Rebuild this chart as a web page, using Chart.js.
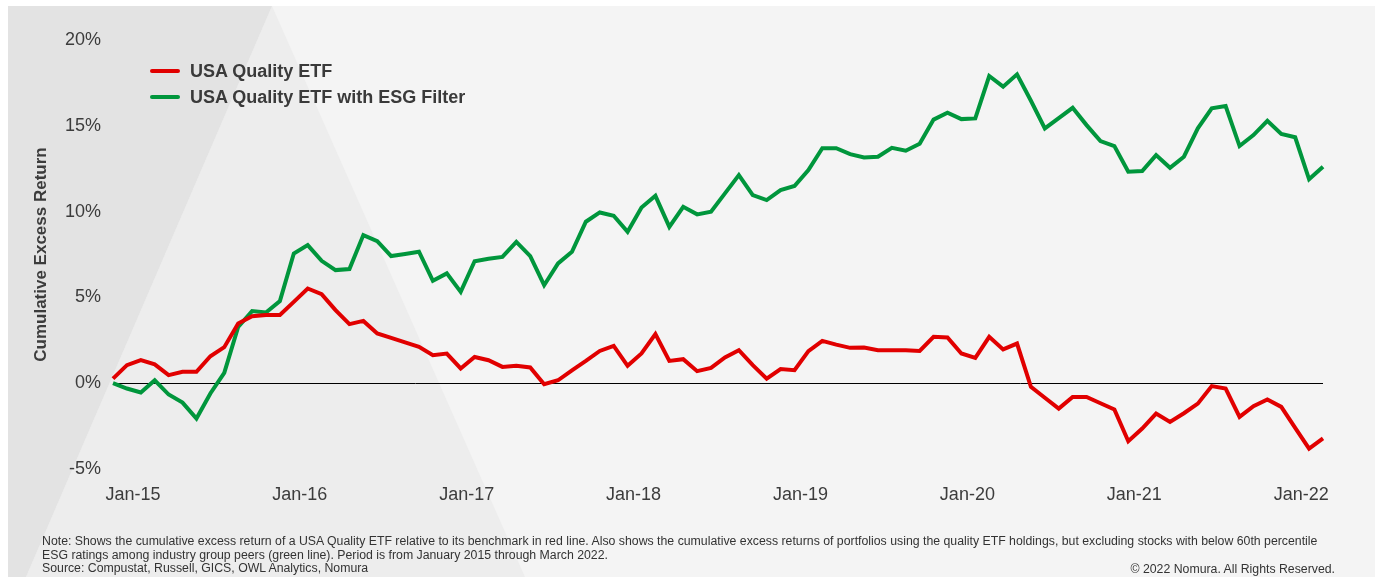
<!DOCTYPE html>
<html>
<head>
<meta charset="utf-8">
<script src="https://cdn.jsdelivr.net/npm/chart.js@4.4.1/dist/chart.umd.min.js"></script>
<style>
  body { margin: 0; background: #fff; font-family: "Liberation Sans", Arial, sans-serif; }
  #wrap { position: relative; width: 1375px; height: 577px; overflow: hidden; }
  #chart { position: absolute; left: 0; top: 0; }
  .legend { position: absolute; left: 150px; top: 60px; color: #3a3a3a; font-weight: bold; font-size: 18px; }
  .legend div { height: 26px; line-height: 22px; white-space: nowrap; }
  .legend span { display: inline-block; width: 30px; height: 4px; border-radius: 2px; vertical-align: middle; margin-right: 10px; position: relative; top: -1px; }
  .note { position: absolute; left: 42px; top: 535px; font-size: 12.3px; line-height: 13.5px; color: #333; white-space: nowrap; }
  .copy { position: absolute; right: 40px; top: 562px; font-size: 12.3px; color: #333; }
</style>
</head>
<body>
<div id="wrap">
  <canvas id="chart" width="1375" height="577"></canvas>
  <div class="legend">
    <div><span style="background:#e10000"></span>USA Quality ETF</div>
    <div><span style="background:#00963c"></span>USA Quality ETF with ESG Filter</div>
  </div>
  <div class="note">Note: Shows the cumulative excess return of a USA Quality ETF relative to its benchmark in red line. Also shows the cumulative excess returns of portfolios using the quality ETF holdings, but excluding stocks with below 60th percentile<br>ESG ratings among industry group peers (green line). Period is from January 2015 through March 2022.<br>Source: Compustat, Russell, GICS, OWL Analytics, Nomura</div>
  <div class="copy">© 2022 Nomura. All Rights Reserved.</div>
</div>
<script>
const months = [
  'Dec-14',
  'Jan-15','Feb-15','Mar-15','Apr-15','May-15','Jun-15','Jul-15','Aug-15','Sep-15','Oct-15','Nov-15','Dec-15',
  'Jan-16','Feb-16','Mar-16','Apr-16','May-16','Jun-16','Jul-16','Aug-16','Sep-16','Oct-16','Nov-16','Dec-16',
  'Jan-17','Feb-17','Mar-17','Apr-17','May-17','Jun-17','Jul-17','Aug-17','Sep-17','Oct-17','Nov-17','Dec-17',
  'Jan-18','Feb-18','Mar-18','Apr-18','May-18','Jun-18','Jul-18','Aug-18','Sep-18','Oct-18','Nov-18','Dec-18',
  'Jan-19','Feb-19','Mar-19','Apr-19','May-19','Jun-19','Jul-19','Aug-19','Sep-19','Oct-19','Nov-19','Dec-19',
  'Jan-20','Feb-20','Mar-20','Apr-20','May-20','Jun-20','Jul-20','Aug-20','Sep-20','Oct-20','Nov-20','Dec-20',
  'Jan-21','Feb-21','Mar-21','Apr-21','May-21','Jun-21','Jul-21','Aug-21','Sep-21','Oct-21','Nov-21','Dec-21',
  'Jan-22','Feb-22','Mar-22'
];

// cumulative excess return, %
const qualityEtf = [
  0.27, 1.05, 1.34, 1.1, 0.47, 0.66, 0.66, 1.57, 2.1, 3.48, 3.9, 3.97, 3.97,
  4.74, 5.52, 5.19, 4.26, 3.44, 3.63, 2.9, 2.64, 2.38, 2.12, 1.63, 1.73,
  0.86, 1.53, 1.34, 0.95, 1.01, 0.92, -0.06, 0.17, 0.75, 1.3, 1.88, 2.18,
  1.01, 1.73, 2.86, 1.3, 1.4, 0.7, 0.89, 1.5, 1.92, 1.05, 0.27, 0.82,
  0.76, 1.87, 2.47, 2.25, 2.06, 2.08, 1.92, 1.92, 1.92, 1.88, 2.7, 2.66,
  1.73, 1.48, 2.7, 1.97, 2.31, -0.21, -0.85, -1.48, -0.8, -0.8, -1.17, -1.53,
  -3.38, -2.64, -1.77, -2.26, -1.75, -1.19, -0.17, -0.31, -1.96, -1.34, -0.95, -1.38,
  -2.6, -3.81, -3.22
];

const qualityEsg = [
  0, -0.31, -0.54, 0.17, -0.66, -1.13, -2.06, -0.6, 0.6, 3.28, 4.2, 4.12, 4.78,
  7.56, 8.05, 7.13, 6.59, 6.65, 8.63, 8.28, 7.41, 7.53, 7.66, 5.97, 6.4,
  5.32, 7.11, 7.25, 7.36, 8.24, 7.41, 5.71, 6.98, 7.66, 9.41, 9.95, 9.76,
  8.82, 10.24, 10.92, 9.11, 10.28, 9.84, 9.99, 11.06, 12.13, 10.96, 10.67, 11.25,
  11.49, 12.42, 13.69, 13.69, 13.35, 13.16, 13.2, 13.72, 13.55, 13.95, 15.36, 15.76,
  15.39, 15.43, 17.9, 17.28, 18.0, 16.46, 14.85, 15.45, 16.05, 15.04, 14.11, 13.82,
  12.32, 12.36, 13.29, 12.55, 13.2, 14.85, 16.02, 16.15, 13.82, 14.46, 15.29, 14.52,
  14.33, 11.88, 12.61
];

const yTicks = [-5, 0, 5, 10, 15, 20];

// grey panel with the two slanted shades behind the plot
const backdrop = {
  id: 'backdrop',
  beforeDraw(chart) {
    const ctx = chart.ctx;
    ctx.save();
    ctx.fillStyle = '#f4f4f4';
    ctx.fillRect(8, 6, 1367, 571);
    ctx.fillStyle = '#ededed';
    ctx.beginPath();
    ctx.moveTo(272, 6); ctx.lineTo(525, 577); ctx.lineTo(26, 577); ctx.closePath();
    ctx.fill();
    ctx.fillStyle = '#e3e3e3';
    ctx.beginPath();
    ctx.moveTo(8, 6); ctx.lineTo(272, 6); ctx.lineTo(26, 577); ctx.lineTo(8, 577); ctx.closePath();
    ctx.fill();
    ctx.restore();
  }
};

new Chart(document.getElementById('chart'), {
  type: 'line',
  data: {
    labels: months,
    datasets: [
      { label: 'USA Quality ETF', data: qualityEtf, borderColor: '#e10000', borderWidth: 4, pointRadius: 0, tension: 0 },
      { label: 'USA Quality ETF with ESG Filter', data: qualityEsg, borderColor: '#00963c', borderWidth: 4, pointRadius: 0, tension: 0 }
    ]
  },
  options: {
    responsive: false,
    animation: false,
    layout: { padding: { left: 0, right: 52, top: 40, bottom: 0 } },
    plugins: { legend: { display: false }, tooltip: { enabled: false } },
    scales: {
      x: {
        grid: { display: false, drawTicks: false },
        border: { display: false },
        afterFit: scale => { scale.height = 108; },
        ticks: {
          autoSkip: false,
          maxRotation: 0,
          padding: 15,
          labelOffset: 6,
          color: '#3c3c3c',
          font: { family: 'Liberation Sans', size: 18 },
          callback: function (v) {
            const l = this.getLabelForValue(v);
            return l.startsWith('Jan') ? l : '';
          }
        }
      },
      y: {
        min: -5,
        max: 20,
        afterFit: scale => { scale.width = 113; },
        afterBuildTicks: scale => { scale.ticks = yTicks.map(v => ({ value: v })); },
        border: { display: false },
        grid: {
          drawTicks: false,
          color: c => c.tick && c.tick.value === 0 ? '#000' : 'rgba(0,0,0,0)',
          lineWidth: 1
        },
        ticks: {
          padding: 12,
          color: '#3c3c3c',
          font: { family: 'Liberation Sans', size: 18 },
          callback: v => v + '%'
        },
        title: {
          display: true,
          text: 'Cumulative Excess Return',
          color: '#3c3c3c',
          font: { family: 'Liberation Sans', size: 17, weight: 'bold' },
          padding: { top: 31, bottom: 0 }
        }
      }
    }
  },
  plugins: [backdrop]
});
</script>
</body>
</html>
